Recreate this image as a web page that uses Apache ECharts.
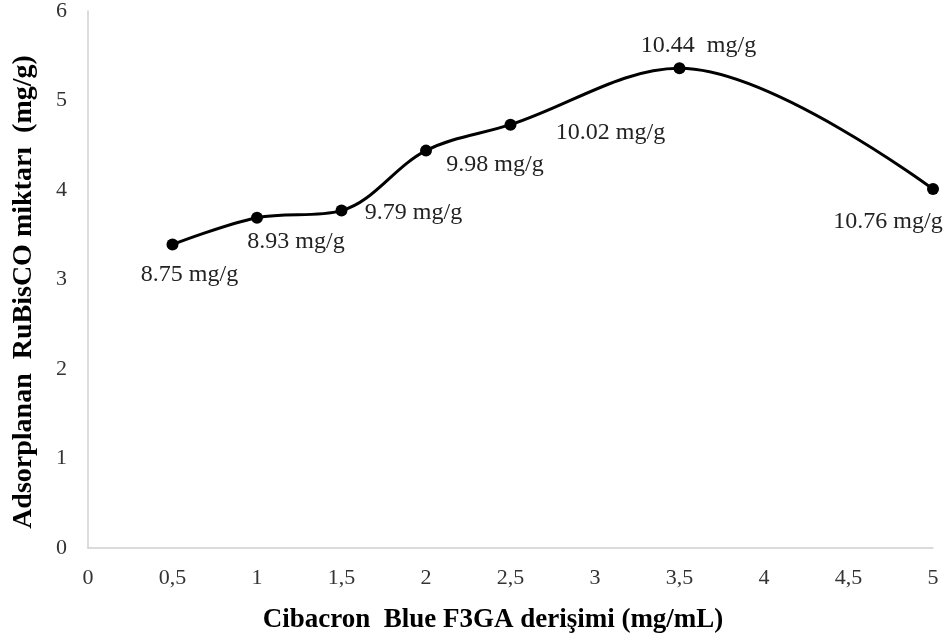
<!DOCTYPE html>
<html>
<head>
<meta charset="utf-8">
<script src="https://cdn.jsdelivr.net/npm/echarts@6/dist/echarts.min.js"></script>
<style>
  html, body { margin: 0; padding: 0; background: #fff; }
  #chart { width: 951px; height: 643px; }
</style>
</head>
<body>
<div id="chart"></div>
<script>
// concentration (mg/mL)
var xVals = [0.5, 1, 1.5, 2, 2.5, 3.5, 5];
// adsorbed amount (mg/g)
var yVals = [3.39, 3.69, 3.77, 4.44, 4.73, 5.36, 4.01];
var pointLabels = ["8.75 mg/g", "8.93 mg/g", "9.79 mg/g", "9.98 mg/g", "10.02 mg/g", "10.44  mg/g", "10.76 mg/g"];
var xTitle = "Cibacron  Blue F3GA derişimi (mg/mL)";
var yTitle = "Adsorplanan  RuBisCO miktarı  (mg/g)";

// label offsets from each point, px
var labelOffsets = [[17, 30], [39, 24], [72, 2], [69, 14], [100, 8], [19, -23], [-45, 33]];

var font = "'Liberation Serif', 'Times New Roman', serif";
var myChart = echarts.init(document.getElementById("chart"));

var data = xVals.map(function (x, i) {
  return {
    value: [x, yVals[i]],
    label: {
      show: true,
      position: "inside",
      align: "center",
      verticalAlign: "middle",
      offset: labelOffsets[i],
      formatter: pointLabels[i]
    }
  };
});

var option = {
  backgroundColor: "#fff",
  animation: false,
  grid: { left: 88, right: 18, top: 9, bottom: 95 },
  xAxis: {
    type: "value",
    min: 0,
    max: 5,
    interval: 0.5,
    axisLine: { lineStyle: { color: "#d0d0d0", width: 1.5 } },
    axisTick: { show: false },
    splitLine: { show: false },
    axisLabel: {
      margin: 19,
      color: "#333",
      fontFamily: font,
      fontSize: 22,
      formatter: function (v) { return String(v).replace(".", ","); }
    }
  },
  yAxis: {
    type: "value",
    min: 0,
    max: 6,
    interval: 1,
    axisLine: { show: true, lineStyle: { color: "#d0d0d0", width: 1.5 } },
    axisTick: { show: false },
    splitLine: { show: false },
    axisLabel: { margin: 21, color: "#333", fontFamily: font, fontSize: 22 }
  },
  graphic: [
    {
      type: "text",
      x: 493,
      y: 620,
      style: {
        text: xTitle,
        fill: "#000",
        font: "bold 27px " + font,
        align: "center",
        verticalAlign: "middle"
      }
    },
    {
      type: "text",
      x: 24,
      y: 292,
      rotation: Math.PI / 2,
      style: {
        text: yTitle,
        fill: "#000",
        font: "bold 28px " + font,
        align: "center",
        verticalAlign: "middle"
      }
    }
  ],
  series: [
    {
      type: "line",
      smooth: 0.35,
      symbol: "circle",
      symbolSize: 12,
      clip: false,
      lineStyle: { color: "#000", width: 3 },
      itemStyle: { color: "#000" },
      label: { color: "#222", fontFamily: font, fontSize: 24 },
      data: data
    }
  ]
};
myChart.setOption(option);
</script>
</body>
</html>
